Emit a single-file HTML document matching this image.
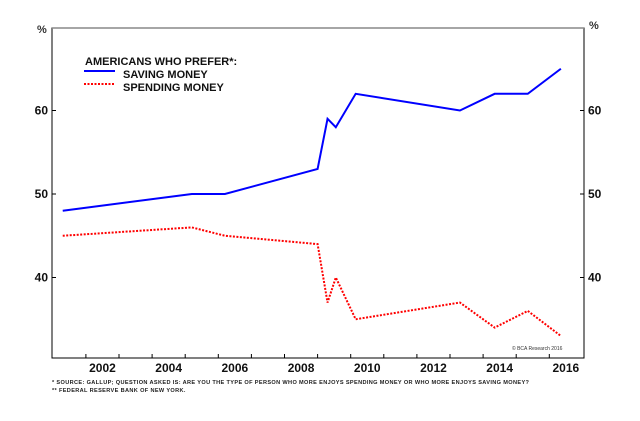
<!DOCTYPE html>
<html><head><meta charset="utf-8"><style>
body{margin:0;background:#fff;width:640px;height:421px;overflow:hidden}
svg{display:block;font-family:"Liberation Sans",Arial,sans-serif}
</style></head><body>
<svg id="chart" width="640" height="421">
<rect x="52" y="28" width="532" height="330" fill="none" stroke="#000" stroke-width="1"/>
<line x1="52" y1="28" x2="584" y2="28" stroke="#888" stroke-width="1.5"/>
<text x="37" y="33" font-size="11" font-weight="bold" fill="#333">%</text>
<text x="589" y="29" font-size="11" font-weight="bold" fill="#333">%</text>
<g>
<text x="85" y="65" font-size="11" font-weight="bold" fill="#111">AMERICANS WHO PREFER*:</text>
<line x1="84" y1="71" x2="115" y2="71" stroke="#0000ff" stroke-width="2"/>
<text x="123" y="78" font-size="11" font-weight="bold" fill="#111">SAVING MONEY</text>
<line x1="84" y1="84" x2="115" y2="84" stroke="#ff0000" stroke-width="2" stroke-dasharray="2,1.5"/>
<text x="123" y="91" font-size="11" font-weight="bold" fill="#111">SPENDING MONEY</text>
</g>
<g id="axes"></g>
<g id="series"></g>
<text x="512" y="350" font-size="5" fill="#333">© BCA Research 2016</text>
<text x="52" y="384" font-size="5.6" font-weight="bold" letter-spacing="0.35" fill="#222">* SOURCE: GALLUP; QUESTION ASKED IS: ARE YOU THE TYPE OF PERSON WHO MORE ENJOYS SPENDING MONEY OR WHO MORE ENJOYS SAVING MONEY?</text>
<text x="52" y="392" font-size="5.6" font-weight="bold" letter-spacing="0.35" fill="#222">** FEDERAL RESERVE BANK OF NEW YORK.</text>
</svg>
<script>
const savingYears=[2001.3,2005.2,2006.2,2009.0,2009.3,2009.55,2010.15,2013.3,2014.35,2015.35,2016.35];
const savingValues=[48,50,50,53,59,58,62,60,62,62,65];
const spendingYears=[2001.3,2005.2,2006.2,2009.0,2009.3,2009.55,2010.15,2013.3,2014.35,2015.35,2016.35];
const spendingValues=[45,46,45,44,37,40,35,37,34,36,33];
const yTicks=[40,50,60];
const xTickYears=[2002,2003,2004,2005,2006,2007,2008,2009,2010,2011,2012,2013,2014,2015,2016];
const xLabels=[2002,2004,2006,2008,2010,2012,2014,2016];
const NS='http://www.w3.org/2000/svg';
function xs(t){return 284.5+33.1*(t-2008);}
function ys(v){return 194-(v-50)*8.35;}
function mk(tag,attrs,parent){const e=document.createElementNS(NS,tag);for(const k in attrs)e.setAttribute(k,attrs[k]);parent.appendChild(e);return e;}
const ax=document.getElementById('axes');
yTicks.forEach(v=>{
 const l=mk('line',{x1:52,x2:56,y1:ys(v),y2:ys(v),stroke:'#000'},ax);
 
 
 const r=mk('line',{x1:580,x2:584,y1:ys(v),y2:ys(v),stroke:'#000'},ax);
 
 
 const t=mk('text',{x:48,y:ys(v)+4,'font-size':12,'font-weight':'bold','text-anchor':'end',fill:'#111'},ax);
 t.textContent=v;
 
 
 const t2=mk('text',{x:588,y:ys(v)+4,'font-size':12,'font-weight':'bold',fill:'#111'},ax);
 t2.textContent=v;
 
 
});
xTickYears.forEach(y=>{
 const l=mk('line',{x1:xs(y),x2:xs(y),y1:354,y2:358,stroke:'#000'},ax);
 
 
});
xLabels.forEach(y=>{
 const t=mk('text',{x:xs(y+0.5),y:372,'font-size':12,'font-weight':'bold','text-anchor':'middle',fill:'#111'},ax);
 t.textContent=y;
 
 
});
const sg=document.getElementById('series');
const p1=mk('polyline',{points:savingYears.map((t,i)=>xs(t)+','+ys(savingValues[i])).join(' '),fill:'none',stroke:'#0000ff','stroke-width':2},sg);


const p2=mk('polyline',{points:spendingYears.map((t,i)=>xs(t)+','+ys(spendingValues[i])).join(' '),fill:'none',stroke:'#ff0000','stroke-width':2,'stroke-dasharray':'2,1.5'},sg);


</script>
</body></html>
